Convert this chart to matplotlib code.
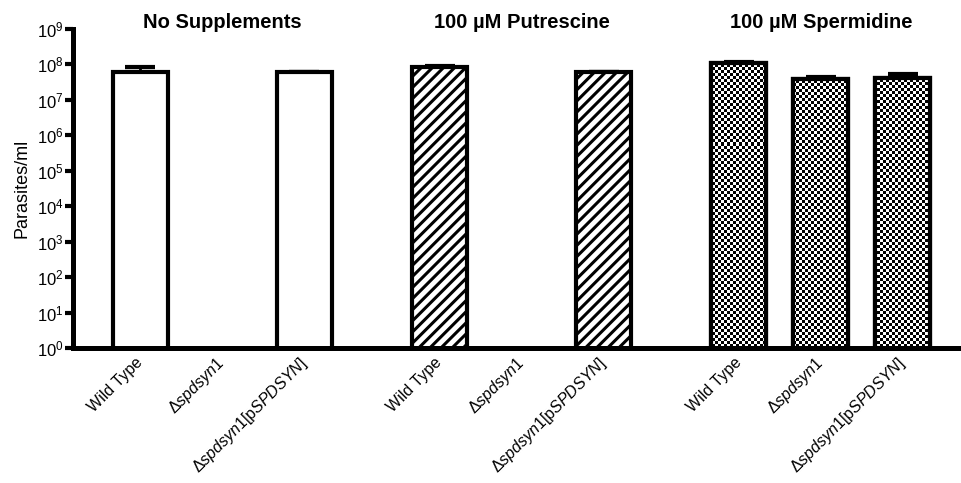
import numpy as np
import matplotlib
matplotlib.use("Agg")
import matplotlib.pyplot as plt

plt.rcParams["font.family"] = ["Liberation Sans", "DejaVu Sans"]
plt.rcParams["mathtext.fontset"] = "custom"
plt.rcParams["mathtext.rm"] = "Liberation Sans"
plt.rcParams["mathtext.it"] = "Liberation Sans:italic"
plt.rcParams["mathtext.bf"] = "Liberation Sans:bold"
plt.rcParams["hatch.linewidth"] = 2.2

# data
groups = ["No Supplements", "100 µM Putrescine", "100 µM Spermidine"]
strains = ["Wild Type", r"$\Delta\mathit{spdsyn1}$",
           r"$\Delta\mathit{spdsyn1}$[p$\mathit{SPDSYN}$]"]
means = [6.3e7, np.nan, 6.0e7,
         8.4e7, np.nan, 6.0e7,
         1.12e8, 3.8e7, 4.2e7]
err_up = [2.2e7, 0, 0.3e7,
          0.6e7, 0, 0.3e7,
          0.4e7, 0.5e7, 1.2e7]
fills = ["plain", "hatch", "checker"]

fig = plt.figure(figsize=(9.62, 4.83), dpi=100)
ax = fig.add_axes([73 / 962, 1 - 348 / 483, 1 - 73 / 962, 319 / 483])
ax.set_yscale("log")

group_gap = 0.65
xs = []
for g in range(len(groups)):
    for s in range(len(strains)):
        xs.append(g * (len(strains) + group_gap) + s)
xs = np.array(xs)
vals = np.array(means)
errs = np.array(err_up)

# checkerboard texture for the spermidine bars
h_px, w_px = 319, 889
ii, jj = np.mgrid[0:h_px, 0:w_px]
checker = ((ii // 3 + jj // 3) % 2).astype(float)

width = 0.67
for i, (x, v, e) in enumerate(zip(xs, vals, errs)):
    if np.isnan(v):
        continue
    style = fills[i // 3]
    ax.errorbar(x, v, yerr=[[0], [e]], fmt="none", ecolor="black",
                elinewidth=2, capsize=11, capthick=3, zorder=1)
    bar = ax.bar(x, v, width=width, facecolor="white", edgecolor="black",
                 linewidth=3, hatch="///" if style == "hatch" else None,
                 zorder=2)[0]
    if style == "checker":
        im = ax.imshow(checker, cmap="gray", extent=(0, 1, 0, 1),
                       transform=ax.transAxes, interpolation="nearest",
                       aspect="auto", zorder=2.5)
        im.set_clip_path(bar)
        ax.bar(x, v, width=width, fill=False, edgecolor="black",
               linewidth=3, zorder=3)

ax.set_xlim(-0.82, 10.02)
ax.set_ylim(1, 1e9)
ax.set_yticks([10.0 ** k for k in range(10)])
ax.set_yticklabels([rf"$10^{{{k}}}$" for k in range(10)], fontsize=12)
ax.minorticks_off()
ax.tick_params(axis="y", length=6, width=3, pad=1)
ax.set_ylabel("Parasites/ml", fontsize=13, labelpad=4)

ax.set_xticks(xs)
ax.set_xticklabels(strains * len(groups), rotation=45, ha="right",
                   va="center", rotation_mode="anchor", fontsize=11.5)
ax.tick_params(axis="x", length=0, pad=9)

for side in ["top", "right"]:
    ax.spines[side].set_visible(False)
for side in ["left", "bottom"]:
    ax.spines[side].set_linewidth(3.6)

for g, name in enumerate(groups):
    ax.text(xs[g * 3 + 1], 0.99, name, transform=ax.get_xaxis_transform(),
            ha="center", va="bottom", fontsize=14.5, fontweight="bold")

fig.savefig("out.png", dpi=100)
